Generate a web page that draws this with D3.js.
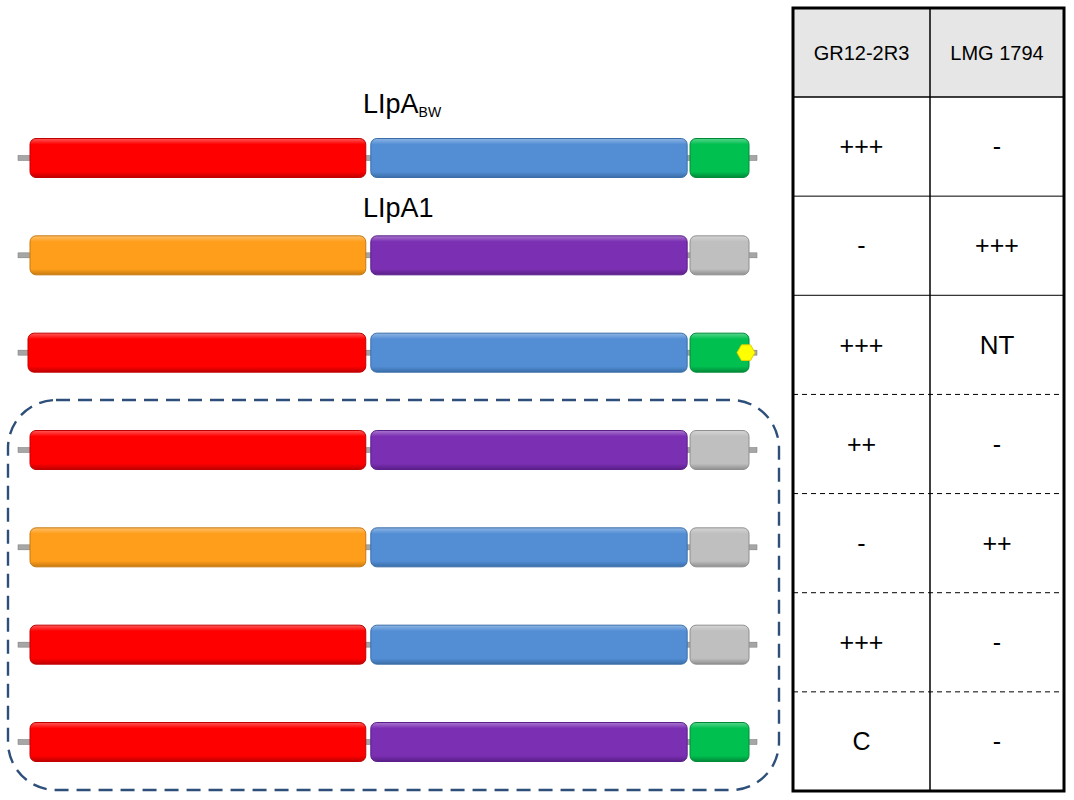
<!DOCTYPE html>
<html><head><meta charset="utf-8">
<script src="https://cdn.jsdelivr.net/npm/d3@7"></script>
<style>body{margin:0;background:#fff}</style></head>
<body><svg id="c" width="1074" height="800"></svg>
<script>
const constructs = ["c1","c2","c3","c4","c5","c6","c7"];
const domain1 = ["red","orange","red","red","orange","red","red"];
const domain2 = ["blue","purple","blue","purple","blue","blue","purple"];
const domain3 = ["green","gray","green","gray","gray","gray","green"];
const tag = [false,false,true,false,false,false,false];
const strains = ["GR12-2R3","LMG 1794"];
const gr12 = ["+++","-","+++","++","-","+++","C"];
const lmg = ["-","+++","NT","-","++","-","-"];
const colors = {red:"#ff0000",orange:"#ff9e1b",blue:"#538ed5",purple:"#7b2fb3",green:"#00c050",gray:"#bfbfbf"};
const dark = {red:"#c00000",orange:"#c77a10",blue:"#3a6ea8",purple:"#5a1f88",green:"#008a38",gray:"#8f8f8f"};

const svg = d3.select("#c");
const defs = svg.append("defs");
Object.keys(colors).forEach(k=>{
  const g = defs.append("linearGradient").attr("id","g"+k).attr("x1",0).attr("y1",0).attr("x2",0).attr("y2",1);
  g.append("stop").attr("offset","0").attr("stop-color",d3.interpolateRgb(colors[k],"#fff")(0.35));
  g.append("stop").attr("offset","0.15").attr("stop-color",colors[k]);
  g.append("stop").attr("offset","0.85").attr("stop-color",colors[k]);
  g.append("stop").attr("offset","1").attr("stop-color",dark[k]);
});

const y = d3.scalePoint().domain(constructs).range([158,742]);
const x = d3.scaleLinear().domain([0,100]).range([30,749]);
const segs = [[0,46.7],[47.4,91.4],[91.8,100]];
const bh = 39;

constructs.forEach((c,i)=>{
  const cy = y(c);
  const g = svg.append("g");
  g.append("rect").attr("x",x(0)-12).attr("y",cy-2.5).attr("width",x(100)-x(0)+20).attr("height",5)
   .attr("fill","#a6a6a6").attr("stroke","#777").attr("stroke-width",0.5);
  [domain1[i],domain2[i],domain3[i]].forEach((col,j)=>{
    const x0 = x(segs[j][0]) - (i===2&&j===0?2:0);
    g.append("rect").attr("x",x0).attr("y",cy-bh/2).attr("width",x(segs[j][1])-x0).attr("height",bh)
     .attr("rx",6).attr("fill","url(#g"+col+")").attr("stroke",dark[col]).attr("stroke-width",1);
  });
  if(tag[i]){
    const hx = x(100)-3, r=9;
    g.append("polygon").attr("points",d3.range(6).map(k=>{const a=Math.PI/3*k;return [hx+r*Math.cos(a),cy+r*Math.sin(a)].join(",");}).join(" "))
     .attr("fill","#ffff00").attr("stroke","#e0d000");
  }
});

const t1 = svg.append("text").attr("x",363).attr("y",113).attr("font-family","Liberation Sans, Arial").attr("font-size",27);
t1.append("tspan").text("LIpA");
t1.append("tspan").attr("font-size",14).attr("dy",4).text("BW");
svg.append("text").attr("x",363).attr("y",217).attr("font-family","Liberation Sans, Arial").attr("font-size",27).text("LIpA1");

svg.append("rect").attr("x",8).attr("y",400).attr("width",771).attr("height",390).attr("rx",48)
  .attr("fill","none").attr("stroke","#2e4f7a").attr("stroke-width",2.4).attr("stroke-dasharray","14,8");

// table
const tx0=793, tx1=1064, tm=930, ty0=8, th=97;
const ry = d3.scaleBand().domain(constructs).range([th,791]);
svg.append("rect").attr("x",tx0).attr("y",ty0).attr("width",tx1-tx0).attr("height",th-ty0).attr("fill","#e6e6e6");
constructs.forEach((c,i)=>{
  if(i>0) svg.append("line").attr("x1",tx0).attr("x2",tx1).attr("y1",ry(c)).attr("y2",ry(c))
    .attr("stroke","#000").attr("stroke-width",1).attr("stroke-dasharray",i>=3?"5,4":null);
  const cy = ry(c)+ry.bandwidth()/2;
  [[gr12[i],(tx0+tm)/2],[lmg[i],(tm+tx1)/2]].forEach(([v,cx])=>{
    svg.append("text").attr("x",cx).attr("y",cy).attr("dy","0.35em").attr("text-anchor","middle")
      .attr("font-family","Liberation Sans, Arial").attr("font-size",v==="NT"?26:25).text(v);
  });
});
svg.append("line").attr("x1",tx0).attr("x2",tx1).attr("y1",th).attr("y2",th).attr("stroke","#000").attr("stroke-width",1.5);
svg.append("line").attr("x1",tm).attr("x2",tm).attr("y1",ty0).attr("y2",791).attr("stroke","#000").attr("stroke-width",1.5);
strains.forEach((s,i)=>svg.append("text").attr("x",i?(tm+tx1)/2:(tx0+tm)/2).attr("y",(ty0+th)/2).attr("dy","0.35em")
  .attr("text-anchor","middle").attr("font-family","Liberation Sans, Arial").attr("font-size",20).text(s));
svg.append("rect").attr("x",tx0).attr("y",ty0).attr("width",tx1-tx0).attr("height",791-ty0)
  .attr("fill","none").attr("stroke","#000").attr("stroke-width",3);
</script></body></html>
